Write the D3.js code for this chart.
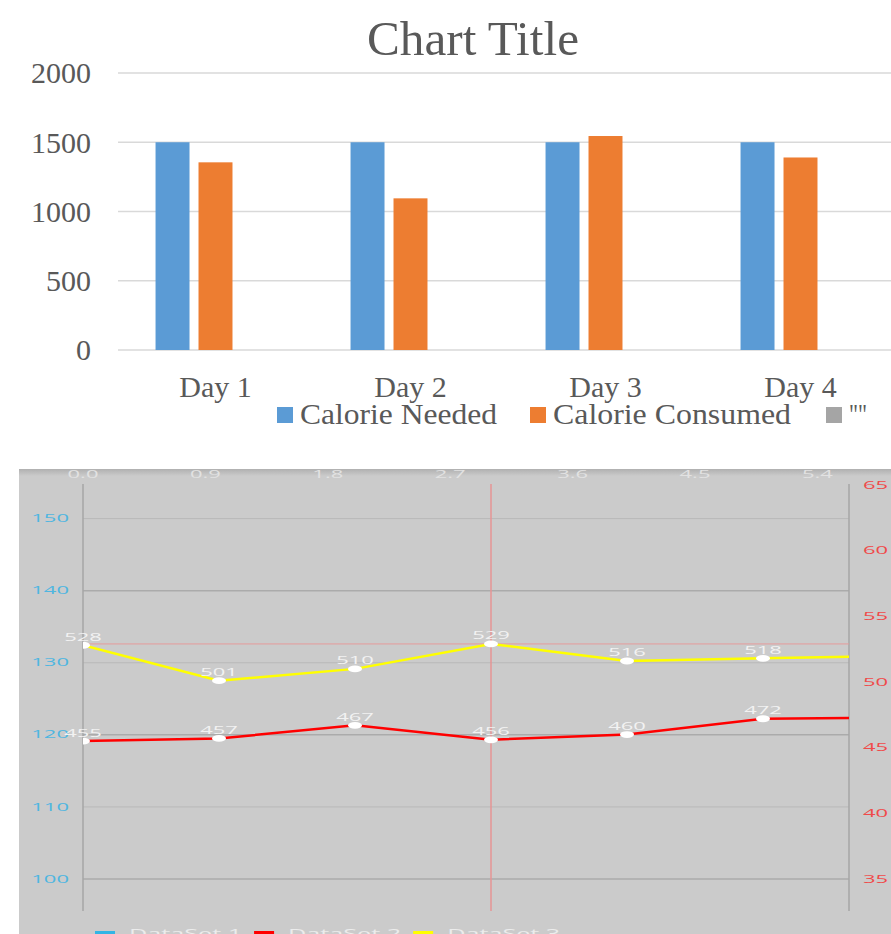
<!DOCTYPE html>
<html>
<head>
<meta charset="utf-8">
<script src="https://cdn.jsdelivr.net/npm/d3@7"></script>
<style>
  html, body { margin: 0; padding: 0; background: #ffffff; overflow: hidden; }
  svg { display: block; }
</style>
</head>
<body>
<svg id="chart" width="891" height="934"></svg>
<script>
// ---------- Top chart data ----------
const days = ["Day 1", "Day 2", "Day 3", "Day 4"];
const calorieNeeded = [1500, 1500, 1500, 1500];
const calorieConsumed = [1355, 1095, 1545, 1390];
const emptySeries = [null, null, null, null];
const barSeriesNames = ["Calorie Needed", "Calorie Consumed", "\"\""];
const barColors = ["#5b9bd5", "#ed7d31", "#a5a5a5"];
const barYTicks = [0, 500, 1000, 1500, 2000];
const chartTitle = "Chart Title";

// ---------- Bottom chart data ----------
const xTicks = [0.0, 0.9, 1.8, 2.7, 3.6, 4.5, 5.4];
const leftTicks = [100, 110, 120, 130, 140, 150];
const rightTicks = [350, 400, 450, 500, 550, 600, 650];
const dataSet1 = [];
const dataSet2 = [455, 457, 467, 456, 460, 472, 473];
const dataSet3 = [528, 501, 510, 529, 516, 518, 520];
const lineNames = ["DataSet 1", "DataSet 2", "DataSet 3"];
const lineColors = ["#33b5e5", "#ff0000", "#ffff00"];
const highlightIndex = 3;

const svg = d3.select("#chart");

// ================= TOP: clustered bar chart =================
(function () {
  const g = svg.append("g");
  const serif = "'Liberation Serif', 'Times New Roman', serif";
  const textCol = "#595959";
  const plotLeft = 118, plotRight = 898;
  const y = d3.scaleLinear().domain([0, 2000]).range([350, 73]);
  const x0 = d3.scaleBand().domain(days).range([plotLeft, plotRight])
    .paddingInner(0.385).paddingOuter(0.1925);
  const x1 = d3.scaleBand().domain(barSeriesNames).range([0, x0.bandwidth()])
    .paddingInner(9 / 43).paddingOuter(0);

  g.append("text").attr("x", 473).attr("y", 55).attr("text-anchor", "middle")
    .attr("font-family", serif).attr("font-size", 48).attr("fill", textCol)
    .attr("textLength", 212).attr("lengthAdjust", "spacingAndGlyphs")
    .text(chartTitle);

  const clip = svg.append("clipPath").attr("id", "topclip");
  clip.append("rect").attr("x", 0).attr("y", 0).attr("width", 891).attr("height", 460);

  const plot = g.append("g").attr("clip-path", "url(#topclip)");
  plot.selectAll("line.grid").data(barYTicks).join("line")
    .attr("x1", plotLeft).attr("x2", plotRight)
    .attr("y1", d => y(d)).attr("y2", d => y(d))
    .attr("stroke", "#d9d9d9").attr("stroke-width", 1.5);

  const yAxis = d3.axisLeft(y).tickValues(barYTicks).tickFormat(d3.format("d"))
    .tickSize(0).tickPadding(0);
  const ya = g.append("g").attr("transform", "translate(91,0)").call(yAxis);
  ya.select(".domain").remove();
  ya.selectAll("text").attr("font-family", serif).attr("font-size", 30)
    .attr("fill", textCol).attr("dy", "0.33em");

  const series = [calorieNeeded, calorieConsumed, emptySeries];
  const rows = [];
  series.forEach((vals, si) => vals.forEach((v, di) => {
    if (v != null) rows.push({ s: barSeriesNames[si], day: days[di], v, c: barColors[si] });
  }));
  plot.selectAll("rect.bar").data(rows).join("rect")
    .attr("x", d => x0(d.day) + x1(d.s)).attr("width", x1.bandwidth())
    .attr("y", d => y(d.v)).attr("height", d => y(0) - y(d.v))
    .attr("fill", d => d.c);

  const xAxis = d3.axisBottom(x0).tickSize(0).tickPadding(0);
  const xa = g.append("g").attr("transform", "translate(0,397)").call(xAxis);
  xa.select(".domain").remove();
  xa.selectAll("text").attr("font-family", serif).attr("font-size", 30)
    .attr("fill", textCol).attr("dy", 0);

  // legend
  const legendX = [277, 530, 826];
  const legendW = [197, 238, 18];
  barSeriesNames.forEach((name, i) => {
    g.append("rect").attr("x", legendX[i]).attr("y", 407).attr("width", 16).attr("height", 16)
      .attr("fill", barColors[i]);
    g.append("text").attr("x", legendX[i] + 23).attr("y", 424)
      .attr("font-family", serif).attr("font-size", 30).attr("fill", textCol)
      .attr("textLength", legendW[i]).attr("lengthAdjust", "spacingAndGlyphs")
      .text(name);
  });
})();

// ================= BOTTOM: dual-axis line chart =================
(function () {
  const sans = "'Open Sans', 'DejaVu Sans', sans-serif";
  const sx = 2.2; // horizontal stretch of the text in the picture
  const panel = { x: 19, y: 469, w: 891 - 19, h: 934 - 469 };
  const left = 83, right = 849, top = 484, bottom = 911;

  const defs = svg.append("defs");
  const grad = defs.append("linearGradient").attr("id", "shadow")
    .attr("x1", 0).attr("y1", 0).attr("x2", 0).attr("y2", 1);
  grad.append("stop").attr("offset", "0%").attr("stop-color", "#b0b0b0");
  grad.append("stop").attr("offset", "100%").attr("stop-color", "#cbcbcb");
  defs.append("clipPath").attr("id", "panelclip").append("rect")
    .attr("x", panel.x).attr("y", panel.y).attr("width", panel.w).attr("height", panel.h);
  defs.append("clipPath").attr("id", "plotclip").append("rect")
    .attr("x", left).attr("y", top - 10).attr("width", right - left).attr("height", bottom - top + 20);

  const g = svg.append("g").attr("clip-path", "url(#panelclip)");
  g.append("rect").attr("x", panel.x).attr("y", panel.y).attr("width", panel.w).attr("height", panel.h)
    .attr("fill", "#cbcbcb");
  g.append("rect").attr("x", panel.x).attr("y", panel.y).attr("width", panel.w).attr("height", 7)
    .attr("fill", "url(#shadow)");

  const x = d3.scaleLinear().domain([0, (right - left) / 136]).range([left, right]);
  const yL = d3.scaleLinear().domain([95.56, 154.8]).range([bottom, top]);
  const yR = d3.scaleLinear().domain([325.6, 650.8]).range([bottom, top]);

  function stretchedText(sel, fs) {
    return sel.attr("font-family", sans).attr("font-size", fs);
  }

  g.selectAll("line.hgrid").data(leftTicks).join("line")
    .attr("x1", left).attr("x2", right)
    .attr("y1", d => yL(d)).attr("y2", d => yL(d))
    .attr("stroke", (d, i) => i % 2 === 0 ? "#ababab" : "#b9b9b9")
    .attr("stroke-width", (d, i) => i % 2 === 0 ? 1.5 : 1);

  [left, right].forEach(xx => g.append("line")
    .attr("x1", xx).attr("x2", xx).attr("y1", top).attr("y2", bottom)
    .attr("stroke", "#a6a6a6").attr("stroke-width", 1.5));

  g.selectAll("text.xt").data(xTicks).join("text")
    .attr("transform", d => `translate(${x(d)},478) scale(${sx},1)`)
    .attr("text-anchor", "middle").attr("fill", "#e2e2e2")
    .call(stretchedText, 10).text(d => d.toFixed(1));

  g.selectAll("text.yl").data(leftTicks).join("text")
    .attr("transform", d => `translate(69,${yL(d) + 3.6}) scale(${sx},1)`)
    .attr("text-anchor", "end").attr("fill", "#4fb6e0")
    .call(stretchedText, 10).text(d => d);

  g.selectAll("text.yr").data(rightTicks).join("text")
    .attr("transform", d => `translate(863,${yR(d) + 3.6}) scale(${sx},1)`)
    .attr("text-anchor", "start").attr("fill", "#f04a4a")
    .call(stretchedText, 10).text(d => d / 10);

  const hl = dataSet3[highlightIndex];
  g.append("line").attr("x1", left).attr("x2", right)
    .attr("y1", yR(hl)).attr("y2", yR(hl))
    .attr("stroke", "#e69a9a").attr("stroke-width", 1);
  g.append("line").attr("x1", x(highlightIndex)).attr("x2", x(highlightIndex))
    .attr("y1", top).attr("y2", bottom)
    .attr("stroke", "#e69595").attr("stroke-width", 1.5);

  const plot = g.append("g").attr("clip-path", "url(#plotclip)");
  const line = d3.line().x((d, i) => x(i)).y(d => yR(d));
  const sets = [dataSet1, dataSet2, dataSet3];
  sets.forEach((ds, si) => {
    if (!ds.length) return;
    plot.append("path").datum(ds).attr("d", line).attr("fill", "none")
      .attr("stroke", lineColors[si]).attr("stroke-width", 2.5);
  });
  sets.forEach((ds, si) => {
    if (!ds.length) return;
    const pts = ds.map((v, i) => ({ v, i })).filter(p => x(p.i) <= right);
    plot.selectAll(null).data(pts).join("ellipse")
      .attr("cx", p => x(p.i)).attr("cy", p => yR(p.v)).attr("rx", 7).attr("ry", 3.4)
      .attr("fill", "#ffffff");
    g.selectAll(null).data(pts).join("text")
      .attr("transform", p => `translate(${x(p.i)},${yR(p.v) - 4.5}) scale(${sx},1)`)
      .attr("text-anchor", "middle").attr("fill", "#f2f2f2")
      .call(stretchedText, 10).text(p => p.v);
  });

  let lx = 95;
  lineNames.forEach((name, i) => {
    g.append("rect").attr("x", lx).attr("y", 931).attr("width", 20).attr("height", 8)
      .attr("fill", lineColors[i]);
    const t = g.append("text").attr("transform", `translate(${lx + 34},938) scale(2.1,1)`)
      .attr("fill", "#ececec").call(stretchedText, 12).text(name);
    const w = t.node().getComputedTextLength() * 2.1;
    lx += 34 + w + 12;
  });
})();
</script>
</body>
</html>
